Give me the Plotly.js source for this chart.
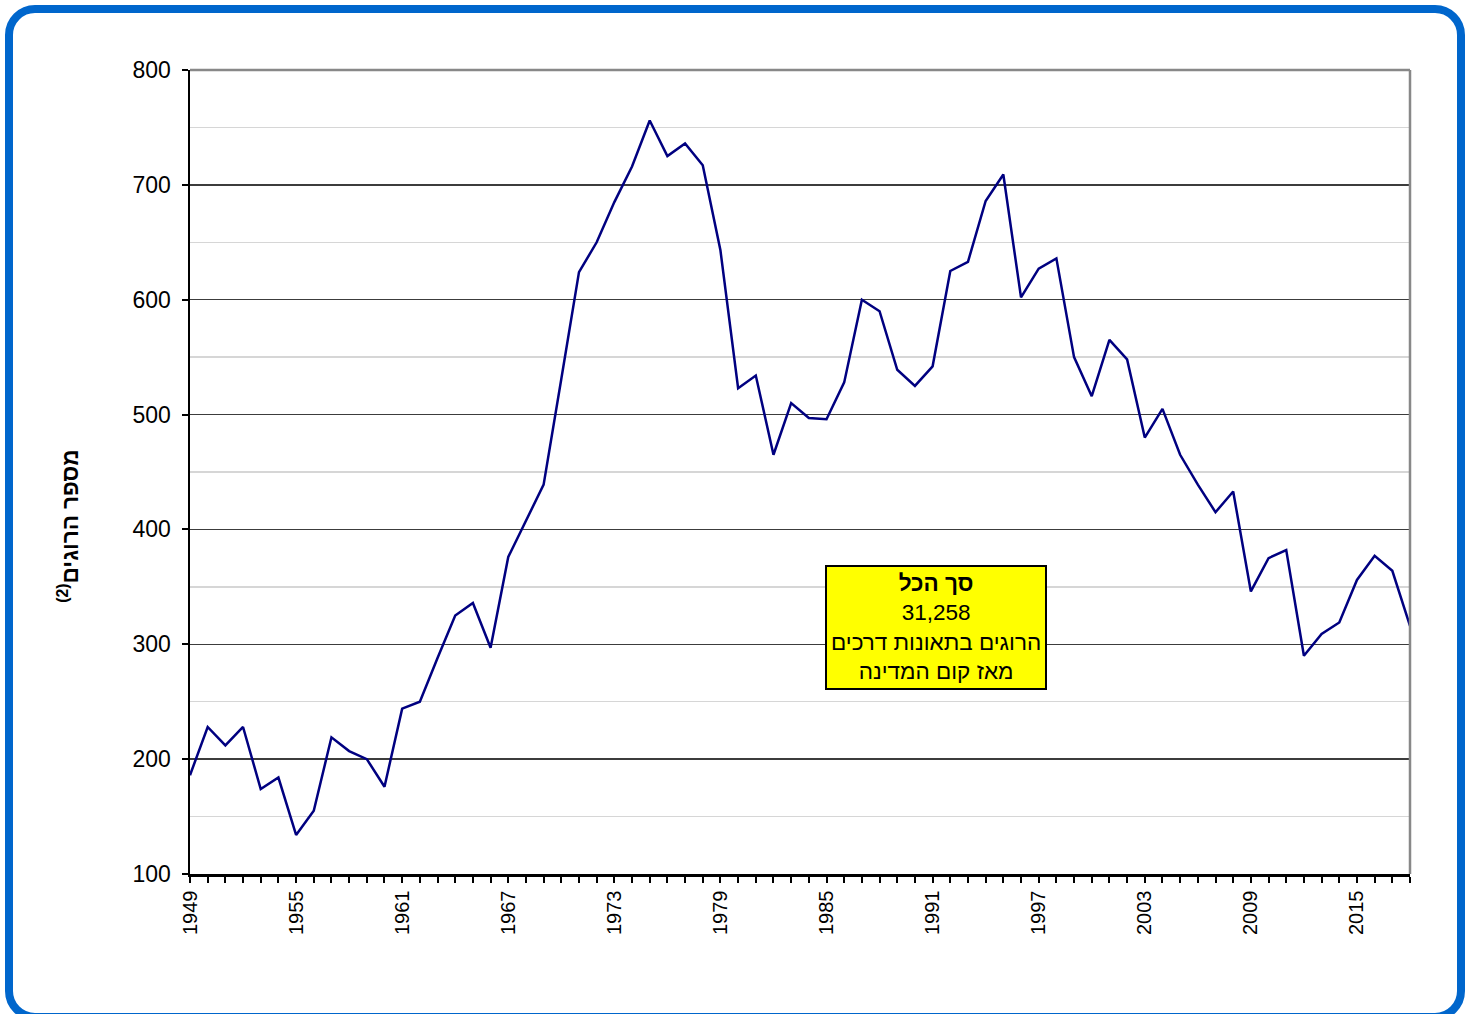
<!DOCTYPE html>
<html>
<head>
<meta charset="utf-8">
<script src="https://cdn.plot.ly/plotly-3.0.1.min.js"></script>
<style>
  html, body { margin: 0; padding: 0; background: #ffffff; overflow: hidden; }
  #wrap { position: relative; width: 1472px; height: 1014px; }
  #chart { position: absolute; left: 0; top: 0; width: 1472px; height: 1014px; }
  #frame { position: absolute; left: 5px; top: 5px; width: 1444px; height: 1000px;
           border: 8px solid #0066cc; border-radius: 30px; pointer-events: none; }
</style>
</head>
<body>
<div id="wrap">
  <div id="chart"></div>
  <div id="frame"></div>
</div>
<script>
const years = [1949,1950,1951,1952,1953,1954,1955,1956,1957,1958,
               1959,1960,1961,1962,1963,1964,1965,1966,1967,1968,
               1969,1970,1971,1972,1973,1974,1975,1976,1977,1978,
               1979,1980,1981,1982,1983,1984,1985,1986,1987,1988,
               1989,1990,1991,1992,1993,1994,1995,1996,1997,1998,
               1999,2000,2001,2002,2003,2004,2005,2006,2007,2008,
               2009,2010,2011,2012,2013,2014,2015,2016,2017,2018];
const deaths = [186,228,212,228,174,184,134,155,219,207,
                200,176,244,250,288,325,336,297,376,408,
                439,531,624,650,685,716,756,725,736,717,
                643,523,534,465,510,497,496,528,600,590,
                539,525,542,625,633,686,709,602,627,636,
                550,516,565,548,480,505,465,439,415,433,
                346,375,382,290,309,319,356,377,364,316];
const xLabelYears = [1949,1955,1961,1967,1973,1979,1985,1991,1997,2003,2009,2015];
const yTicks = [100,200,300,400,500,600,700,800];
const yTitle = 'מספר הרוגים<sup>(2)</sup>';
const boxLines = ['<b>סך הכל</b>', '31,258', 'הרוגים בתאונות דרכים', 'מאז קום המדינה'];

const FONT = 'Arial, "Liberation Sans", sans-serif';
const tickText = years.map(y => xLabelYears.includes(y) ? String(y) : '');

const trace = {
  x: years, y: deaths, type: 'scatter', mode: 'lines',
  line: { color: '#000080', width: 2.5 },
  hoverinfo: 'x+y'
};

const layout = {
  width: 1472, height: 1014,
  margin: { l: 190, r: 62, t: 70, b: 140 },
  paper_bgcolor: '#ffffff', plot_bgcolor: '#ffffff',
  showlegend: false,
  font: { family: FONT, color: '#000000' },
  xaxis: {
    range: [1949, 2018],
    tickmode: 'array', tickvals: years, ticktext: tickText,
    tickangle: -90,
    ticks: 'outside', ticklen: 6, tickwidth: 2, tickcolor: '#000000',
    showline: true, linecolor: '#000000', linewidth: 2.5,
    showgrid: false, zeroline: false,
    tickfont: { family: FONT, size: 20, color: '#000000' }
  },
  yaxis: {
    range: [100, 800],
    tickmode: 'array', tickvals: yTicks,
    ticks: 'outside', ticklen: 6, tickwidth: 2, tickcolor: '#000000',
    ticklabelstandoff: 6,
    showline: true, linecolor: '#000000', linewidth: 2.5,
    showgrid: true, gridcolor: '#3c3c3c', gridwidth: 1.3,
    minor: { dtick: 50, showgrid: true, gridcolor: '#d6d6d6', gridwidth: 1.5, ticks: '' },
    zeroline: false,
    tickfont: { family: FONT, size: 23, color: '#000000' }
  },
  shapes: [
    { type: 'line', xref: 'paper', yref: 'paper', x0: 0, x1: 1, y0: 1, y1: 1,
      line: { color: '#888888', width: 2.5 } },
    { type: 'line', xref: 'paper', yref: 'paper', x0: 1, x1: 1, y0: 0, y1: 1,
      line: { color: '#888888', width: 2.5 } }
  ],
  annotations: [
    { xref: 'paper', yref: 'paper', x: -0.1, y: 0.432,
      xanchor: 'center', yanchor: 'middle', textangle: -90,
      text: '<b>' + yTitle + '</b>', showarrow: false,
      font: { family: FONT, size: 22.5, color: '#000000' } },
    { xref: 'paper', yref: 'paper', x: 0.6115, y: 0.307,
      xanchor: 'center', yanchor: 'middle', align: 'center',
      text: boxLines.join('<br>'), showarrow: false,
      bgcolor: '#ffff00', bordercolor: '#000000', borderwidth: 2, borderpad: 4,
      font: { family: FONT, size: 22.5, color: '#000000' } }
  ]
};

Plotly.newPlot('chart', [trace], layout, { displayModeBar: false, staticPlot: true });
</script>
</body>
</html>
